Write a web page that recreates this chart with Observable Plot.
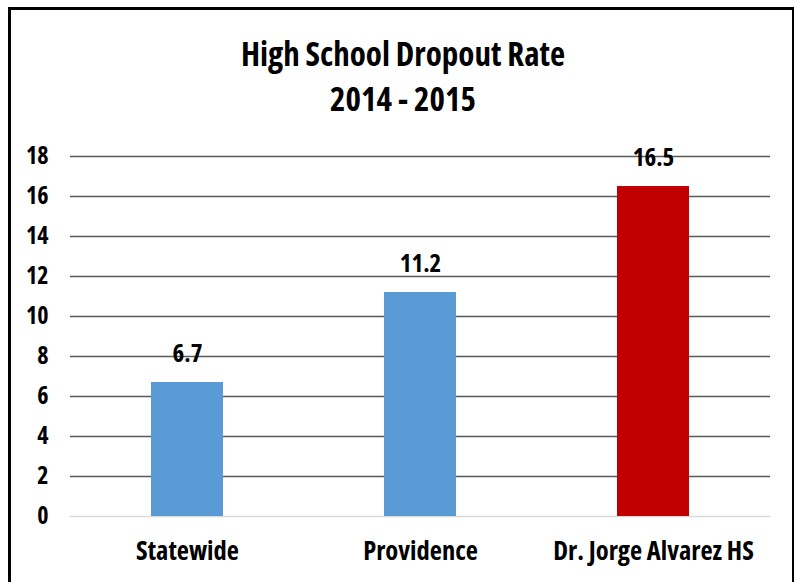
<!DOCTYPE html>
<html>
<head>
<meta charset="utf-8">
<script src="https://cdn.jsdelivr.net/npm/d3@7"></script>
<script src="https://cdn.jsdelivr.net/npm/@observablehq/plot@0.6"></script>
<style>
  body { margin: 0; background: #fff; width: 794px; height: 582px; overflow: hidden; position: relative; }
  #frame { position: absolute; left: 8px; top: 7px; width: 786px; height: 620px;
           border-top: 3px solid #000; border-left: 3px solid #000; border-right: 2px solid #000; box-sizing: border-box; }
  #title { position: absolute; left: 0; top: 0; width: 794px; text-align: center;
           font-family: "Open Sans", sans-serif; font-stretch: condensed; font-weight: bold;
           font-size: 33px; color: #000; }
  #title div { position: absolute; width: 794px; left: 6px; line-height: 1; }
  #chart { position: absolute; left: 0; top: 130px; }
  #chart svg text { font-stretch: condensed; }
</style>
</head>
<body>
<div id="frame"></div>
<div id="title"><div style="top:37px">High School Dropout Rate</div><div style="top:82px">2014 - 2015</div></div>
<div id="chart"></div>
<script>
const categories = ["Statewide", "Providence", "Dr. Jorge Alvarez HS"];
const values = [6.7, 11.2, 16.5];
const colors = ["#5b9bd5", "#5b9bd5", "#c00000"];
const yTicks = [0, 2, 4, 6, 8, 10, 12, 14, 16, 18];

const data = categories.map((c, i) => ({category: c, value: values[i], color: colors[i]}));

const chart = Plot.plot({
  width: 794,
  height: 452,
  marginTop: 26,
  marginBottom: 66,
  marginLeft: 70,
  marginRight: 24,
  style: {fontFamily: '"Open Sans", sans-serif', fontSize: "24px", fontWeight: "bold", color: "#000", background: "transparent"},
  x: {domain: categories, paddingInner: 0.69, paddingOuter: 0.345, label: null},
  y: {domain: [0, 18], label: null},
  marks: [
    Plot.ruleY(yTicks.filter(d => d > 0), {stroke: "#595959", strokeWidth: 1.5, strokeOpacity: 1}),
    Plot.ruleY([0], {stroke: "#d9d9d9", strokeWidth: 1.5}),
    Plot.barY(data, {x: "category", y: "value", fill: "color"}),
    Plot.text(data, {x: "category", y: "value", text: d => d.value.toFixed(1), dy: -29, fill: "#000", fontSize: 25, fontWeight: "bold"}),
    Plot.axisY({ticks: yTicks, tickSize: 0, tickPadding: 22, label: null, fontSize: 24}),
    Plot.axisX({tickSize: 0, tickPadding: 25, label: null, fontSize: 26.5})
  ]
});
document.getElementById("chart").appendChild(chart);
</script>
</body>
</html>
